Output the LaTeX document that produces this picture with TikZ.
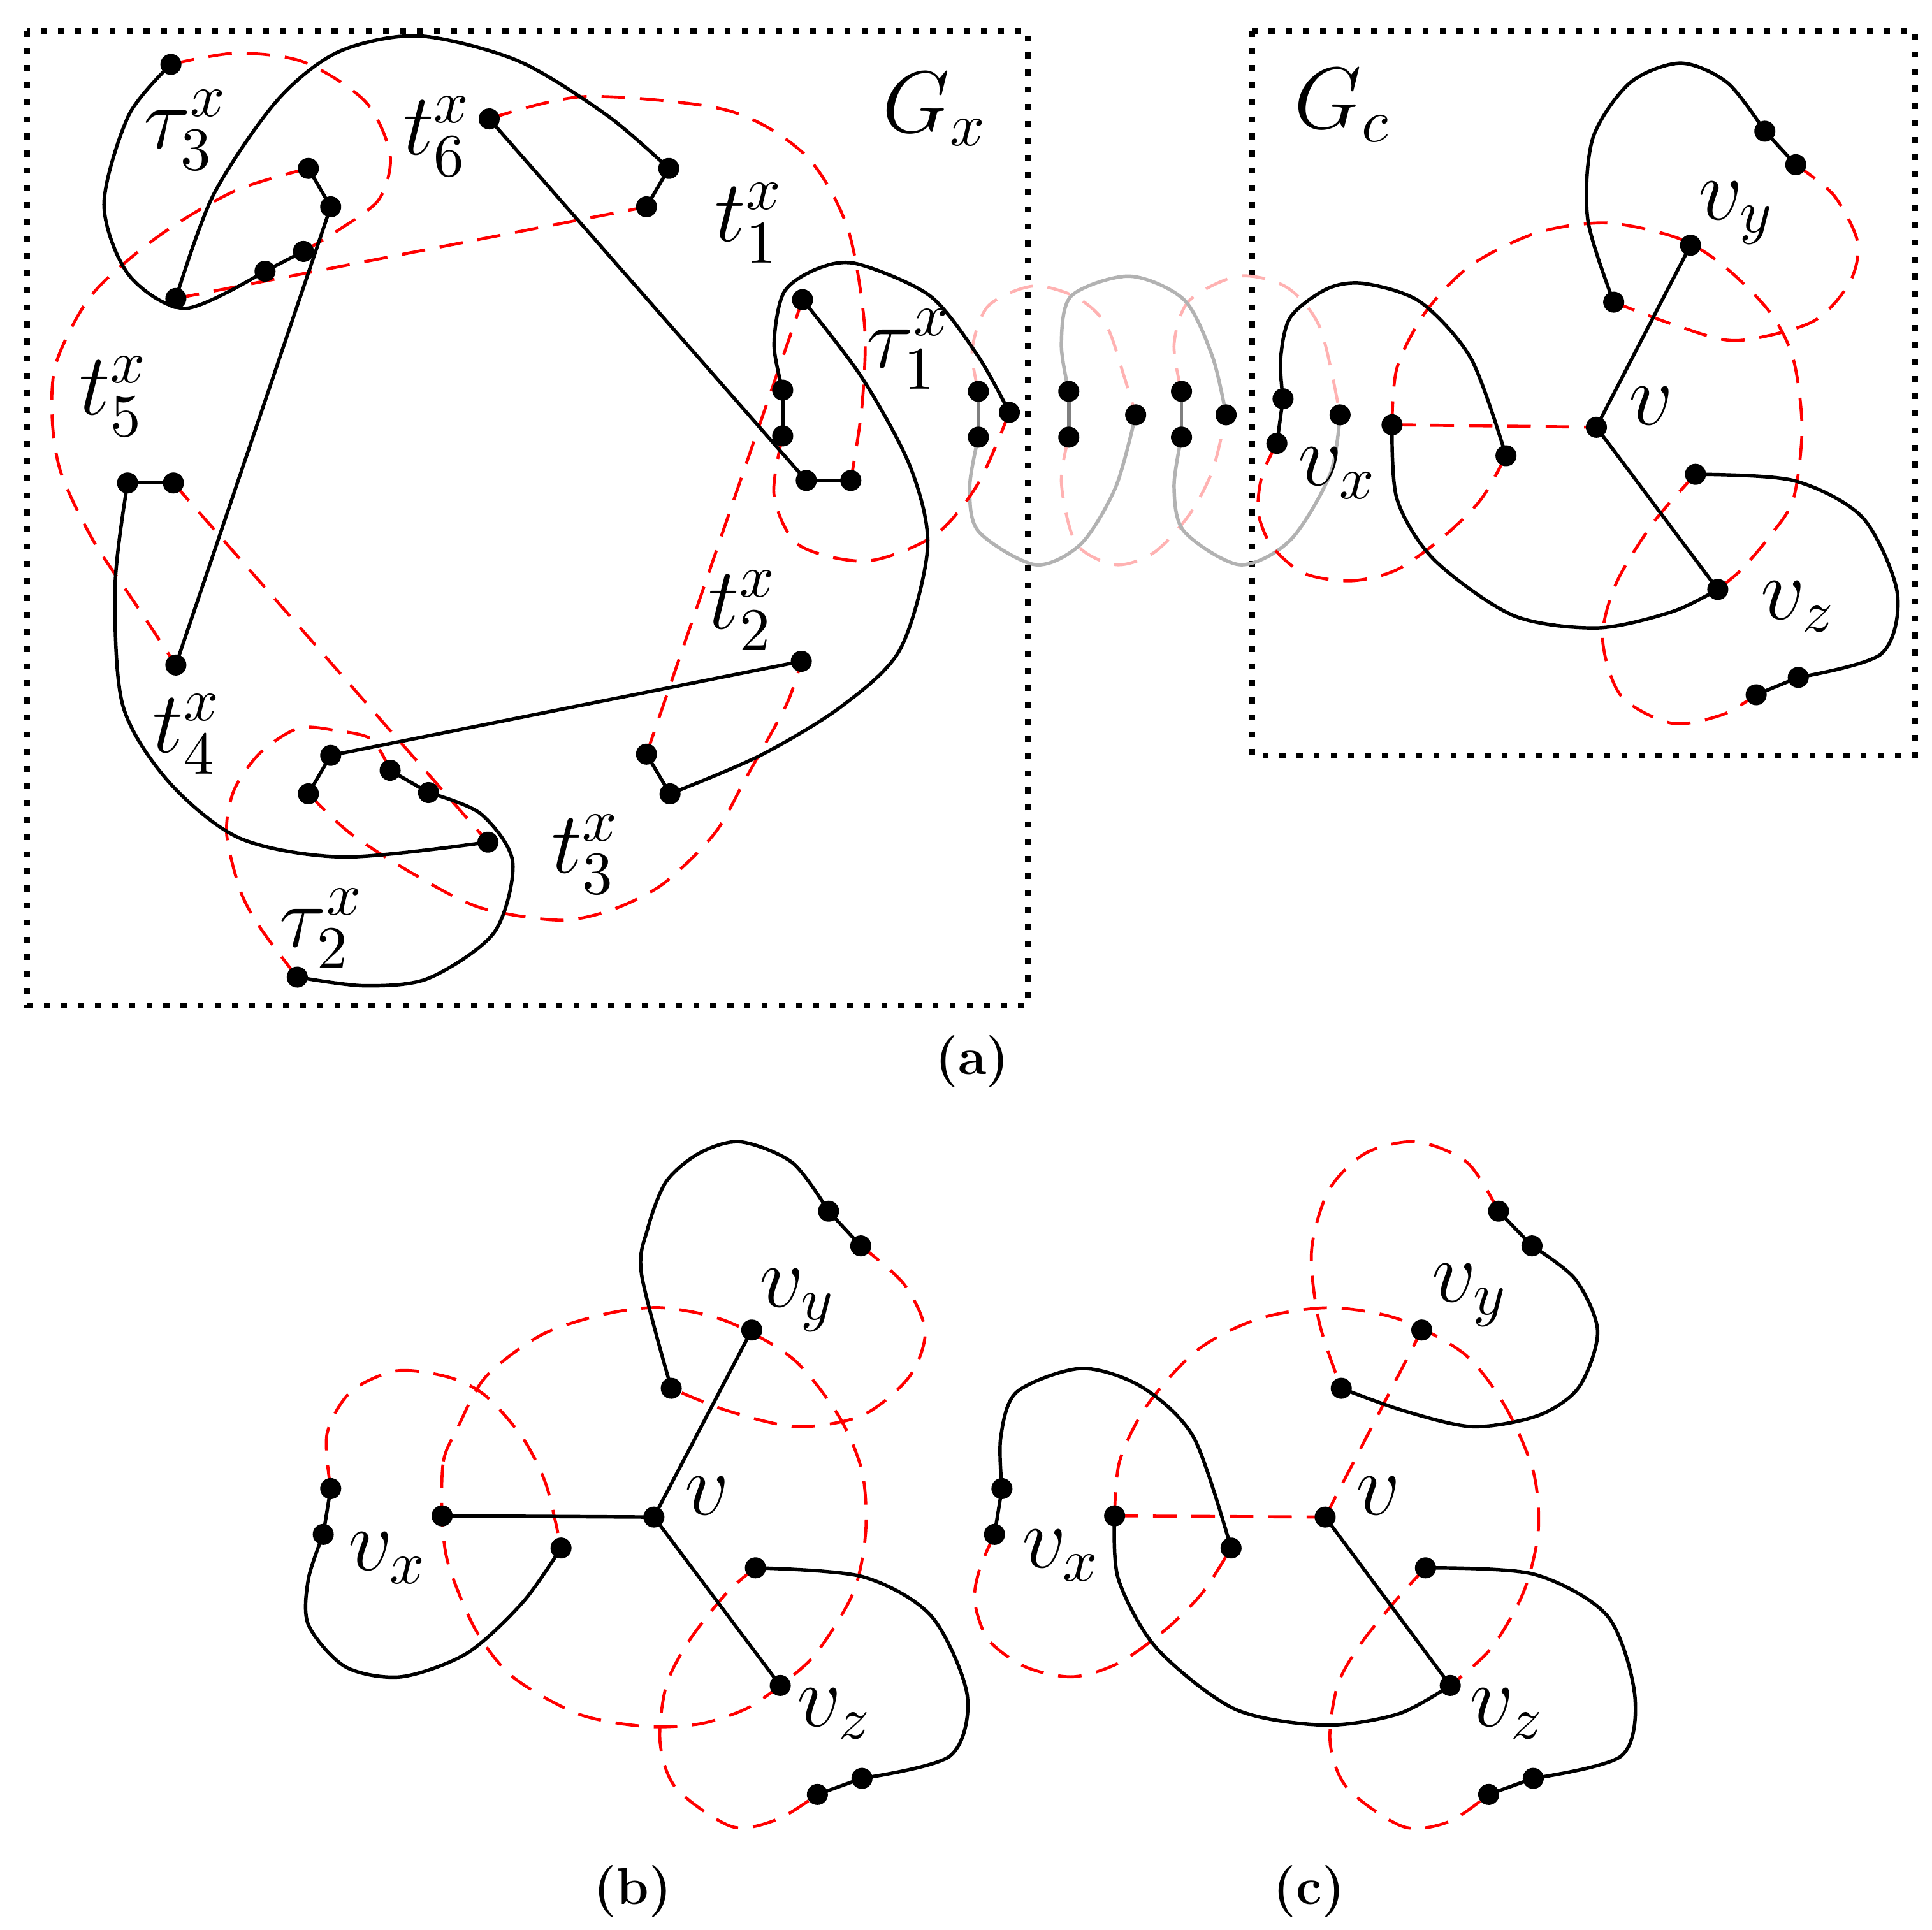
\documentclass[tikz,border=0pt]{standalone}
\begin{document}
\begin{tikzpicture}[x=1pt,y=-1pt,
  blk/.style={line width=2.8pt,black},
  rdd/.style={line width=2.4pt,red,dash pattern=on 19pt off 12pt},
  pnk/.style={line width=2.4pt,red!30,dash pattern=on 19pt off 12pt},
  gry/.style={line width=2.8pt,black!30},
  gryseg/.style={line width=2.8pt,black!50},
  boxd/.style={line width=4.8pt,dash pattern=on 4.8pt off 9pt},
  lbl/.style={font=\Large,scale=4.9,inner sep=0pt},
  captxt/.style={font=\Large\bfseries,scale=2.9,inner sep=0pt}]
\useasboundingbox (0,0) rectangle (1560,1558);
% boxes
\coordinate (gx1) at (22,25); \coordinate (gx2) at (830,812);
\coordinate (gc1) at (1011,25); \coordinate (gc2) at (1546,610);
\draw[boxd] (gx1) rectangle (gx2);
\draw[boxd] (gc1) rectangle (gc2);
% Gx coordinates
\coordinate (d1) at (138,52); \coordinate (d2) at (249,136); \coordinate (d3) at (267,167);
\coordinate (d4) at (245,203); \coordinate (d5) at (214,219); \coordinate (d6) at (142,241);
\coordinate (d7) at (395,96); \coordinate (d8) at (540,136); \coordinate (d9) at (522,167);
\coordinate (d10) at (103,390); \coordinate (d11) at (140,390); \coordinate (d12) at (142,537);
\coordinate (d13) at (648,242); \coordinate (d14) at (632,315); \coordinate (d15) at (632,352);
\coordinate (d16) at (651,388); \coordinate (d17) at (687,388); \coordinate (d18) at (647,534);
\coordinate (d19) at (267,610); \coordinate (d20) at (249,641); \coordinate (d21) at (315,622);
\coordinate (d22) at (346,640); \coordinate (d23) at (394,680); \coordinate (d24) at (522,609);
\coordinate (d25) at (541,641); \coordinate (d26) at (240,789); \coordinate (d27) at (815,333);
% middle
\coordinate (m1) at (790,316); \coordinate (m2) at (790,353); \coordinate (m3) at (863,316);
\coordinate (m4) at (863,353); \coordinate (m5) at (917,335); \coordinate (m6) at (954,316);
\coordinate (m7) at (954,353); \coordinate (m8) at (990,335);
% Gc
\coordinate (c1) at (1036,322); \coordinate (c2) at (1031,358); \coordinate (c3) at (1082,335);
\coordinate (c4) at (1124,343); \coordinate (c5) at (1216,368); \coordinate (v) at (1289,345);
\coordinate (vy) at (1365,198); \coordinate (vz) at (1387,476); \coordinate (y1) at (1303,244);
\coordinate (y2) at (1425,106); \coordinate (y3) at (1450,133); \coordinate (z1) at (1369,383);
\coordinate (z2) at (1452,547); \coordinate (z3) at (1418,561);
% b
\coordinate (by2) at (669,978); \coordinate (by3) at (695,1006); \coordinate (bvy) at (607,1074);
\coordinate (by1) at (542,1121); \coordinate (bv) at (528,1225); \coordinate (bc4) at (357,1224);
\coordinate (bc5) at (453,1250); \coordinate (bc1) at (267,1202); \coordinate (bc2) at (261,1239);
\coordinate (bz1) at (610,1266); \coordinate (bvz) at (630,1361); \coordinate (bz2) at (696,1436);
\coordinate (bz3) at (660,1449);
% c
\coordinate (cy2) at (1210,978); \coordinate (cy3) at (1237,1006); \coordinate (cvy) at (1148,1074);
\coordinate (cy1) at (1083,1121); \coordinate (cv) at (1070,1225); \coordinate (cc4) at (900,1224);
\coordinate (cc5) at (994,1250); \coordinate (cc1) at (809,1202); \coordinate (cc2) at (803,1239);
\coordinate (cz1) at (1151,1266); \coordinate (cvz) at (1171,1361); \coordinate (cz2) at (1238,1436);
\coordinate (cz3) at (1202,1449);

% ---------- pink / gray middle
\draw[pnk] plot[smooth] coordinates {(m1) (785,282) (798,247) (834,231) (869,240) (893,262) (908,305) (m5)};
\draw[pnk] plot[smooth] coordinates {(m4) (857,390) (869,439) (901,456) (932,446) (960,416) (979,380) (m8)};
\draw[pnk] plot[smooth] coordinates {(m6) (948,278) (960,243) (1000,223) (1039,232) (1066,265) (c3)};
\draw[gry] plot[smooth] coordinates {(m2) (783,393) (790,429) (836,456) (873,439) (901,393) (m5)};
\draw[gry] plot[smooth] coordinates {(m3) (857,278) (865,239) (912,223) (956,242) (979,288) (m8)};
\draw[gry] plot[smooth] coordinates {(m7) (948,393) (956,429) (1001,456) (1042,436) (1074,383) (c3)};
\draw[gryseg] (m1) -- (m2); \draw[gryseg] (m3) -- (m4); \draw[gryseg] (m6) -- (m7);

% ---------- Gx red
\draw[rdd] plot[smooth] coordinates {(d1) (190,43) (245,50) (295,82) (315,125) (306,161) (273,186) (d4)};
\draw[rdd] plot[smooth] coordinates {(d2) (190,154) (129,190) (75,237) (46,291) (42,335) (49,381) (75,436) (111,490) (d12)};
\draw[rdd] (d6) -- (d9);
\draw[rdd] (d11) -- (d23);
\draw[rdd] plot[smooth] coordinates {(d7) (472,78) (587,89) (650,125) (684,183) (698,262) (696,328) (d17)};
\draw[rdd] plot[smooth] coordinates {(d15) (625,400) (645,440) (700,453) (755,432) (790,390) (d27)};
\draw[rdd] (d24) -- (d13);
\draw[rdd] plot[smooth] coordinates {(d21) (300,597) (272,590) (241,588) (210,608) (189,638) (183,673) (194,719) (210,749) (d26)};
\draw[rdd] plot[smooth] coordinates {(d20) (283,673) (336,707) (388,733) (451,743) (493,735) (535,714) (577,673) (603,627) (635,569) (d18)};
% ---------- Gx black
\draw[blk] plot[smooth] coordinates {(d1) (104,93) (84,165) (104,222) (150,249) (d5)};
\draw[blk] (d2) -- (d3); \draw[blk] (d4) -- (d5); \draw[blk] (d8) -- (d9);
\draw[blk] (d10) -- (d11); \draw[blk] (d14) -- (d15); \draw[blk] (d16) -- (d17);
\draw[blk] (d19) -- (d20); \draw[blk] (d21) -- (d22); \draw[blk] (d24) -- (d25);
\draw[blk] (d3) -- (d12); \draw[blk] (d7) -- (d16); \draw[blk] (d19) -- (d18);
\draw[blk] plot[smooth] coordinates {(d6) (172,158) (223,82) (273,42) (338,29) (418,49) (490,93) (d8)};
\draw[blk] plot[smooth] coordinates {(d10) (93,472) (99,569) (136,631) (194,677) (278,692) (d23)};
\draw[blk] plot[smooth] coordinates {(d22) (388,657) (414,696) (399,753) (346,790) (294,796) (d26)};
\draw[blk] plot[smooth] coordinates {(d25) (614,610) (680,570) (727,524) (749,442) (735,377) (696,305) (d13)};
\draw[blk] plot[smooth] coordinates {(d14) (625,278) (633,236) (660,217) (692,213) (751,239) (790,288) (d27)};

% ---------- Gc
\draw[rdd] (c4) -- (v);
\draw[rdd] plot[smooth] coordinates {(y3) (1481,158) (1500,196) (1493,229) (1463,260) (1402,275) (1354,263) (y1)};
\draw[rdd] plot[smooth] coordinates {(c4) (1128,297) (1151,252) (1188,214) (1241,188) (1297,180) (1354,192) (1391,214) (1429,252) (1448,290) (1455,346) (1448,403) (1429,433) (1406,460) (vz)};
\draw[rdd] plot[smooth] coordinates {(z1) (1335,422) (1305,471) (1294,516) (1309,562) (1350,584) (1391,577) (z3)};
\draw[rdd] plot[smooth] coordinates {(c2) (1019,384) (1016,414) (1027,441) (1053,463) (1091,469) (1128,460) (1166,433) (1196,403) (c5)};
\draw[blk] (c1) -- (c2); \draw[blk] (y2) -- (y3); \draw[blk] (z2) -- (z3);
\draw[blk] (v) -- (vy); \draw[blk] (v) -- (vz);
\draw[blk] plot[smooth] coordinates {(c1) (1034,290) (1042,256) (1072,233) (1102,229) (1147,244) (1188,290) (c5)};
\draw[blk] plot[smooth] coordinates {(c4) (1128,403) (1158,452) (1222,497) (1290,507) (1350,494) (vz)};
\draw[blk] plot[smooth] coordinates {(y1) (1282,177) (1286,112) (1316,67) (1357,51) (1395,67) (y2)};
\draw[blk] plot[smooth] coordinates {(z1) (1448,388) (1504,418) (1532,479) (1519,528) (z2)};

% ---------- panel b
\draw[rdd] plot[smooth] coordinates {(by3) (730,1037) (747,1075) (734,1112) (696,1143) (643,1152) (587,1139) (by1)};
\draw[rdd] plot[smooth] coordinates {(bc1) (264,1158) (283,1124) (320,1107) (362,1112) (392,1127) (422,1161) (441,1199) (bc5)};
\draw[rdd] plot[smooth cycle] coordinates {(bc4) (358,1180) (369,1154) (392,1112) (437,1078) (489,1061) (535,1056) (587,1067) (640,1097) (677,1143) (696,1188) (699,1237) (689,1286) (659,1335) (bvz) (602,1380) (565,1392) (520,1394) (467,1384) (414,1354) (384,1316) (362,1263)};
\draw[rdd] plot[smooth] coordinates {(bz1) (587,1286) (557,1324) (538,1361) (533,1407) (546,1444) (591,1475) (628,1469) (bz3)};
\draw[blk] (bc1) -- (bc2); \draw[blk] (by2) -- (by3); \draw[blk] (bz2) -- (bz3);
\draw[blk] (bv) -- (bvy); \draw[blk] (bv) -- (bvz); \draw[blk] (bv) -- (bc4);
\draw[blk] plot[smooth] coordinates {(by1) (518,1029) (523,992) (538,954) (565,931) (598,922) (640,939) (by2)};
\draw[blk] plot[smooth] coordinates {(bc2) (249,1275) (249,1312) (279,1346) (324,1354) (377,1335) (422,1294) (bc5)};
\draw[blk] plot[smooth] coordinates {(bz1) (696,1273) (752,1305) (781,1369) (767,1418) (bz2)};

% ---------- panel c
\draw[rdd] (cc4) -- (cv); \draw[rdd] (cv) -- (cvy);
\draw[rdd] plot[smooth] coordinates {(cy2) (1185,939) (1144,922) (1103,931) (1073,961) (1059,1010) (1065,1067) (cy1)};
\draw[rdd] plot[smooth] coordinates {(cc2) (791,1267) (787,1293) (798,1324) (828,1346) (866,1354) (903,1343) (941,1316) (971,1286) (cc5)};
\draw[rdd] plot[smooth] coordinates {(cc4) (904,1180) (926,1135) (967,1090) (1016,1065) (1073,1056) (1129,1065) (1182,1093) (1215,1135) (1238,1188) (1242,1237) (1230,1286) (1204,1331) (cvz)};
\draw[rdd] plot[smooth] coordinates {(cz1) (1129,1290) (1099,1327) (1080,1361) (1074,1407) (1088,1444) (1133,1475) (1170,1471) (cz3)};
\draw[blk] (cc1) -- (cc2); \draw[blk] (cy2) -- (cy3); \draw[blk] (cz2) -- (cz3); \draw[blk] (cv) -- (cvz);
\draw[blk] plot[smooth] coordinates {(cy3) (1272,1033) (1290,1075) (1275,1120) (1242,1143) (1189,1152) (1133,1139) (cy1)};
\draw[blk] plot[smooth] coordinates {(cc1) (808,1161) (821,1124) (873,1105) (922,1120) (964,1161) (cc5)};
\draw[blk] plot[smooth] coordinates {(cc4) (903,1275) (934,1331) (997,1380) (1069,1393) (1129,1384) (cvz)};
\draw[blk] plot[smooth] coordinates {(cz1) (1238,1271) (1298,1305) (1320,1369) (1309,1418) (cz2)};

% ---------- dots
\foreach \n in {d1,d2,d3,d4,d5,d6,d7,d8,d9,d10,d11,d12,d13,d14,d15,d16,d17,d18,d19,d20,d21,d22,d23,d24,d25,d26,d27,
  m1,m2,m3,m4,m5,m6,m7,m8,c1,c2,c3,c4,c5,v,vy,vz,y1,y2,y3,z1,z2,z3,
  by1,by2,by3,bvy,bv,bc1,bc2,bc4,bc5,bz1,bz2,bz3,bvz,
  cy1,cy2,cy3,cvy,cv,cc1,cc2,cc4,cc5,cz1,cz2,cz3,cvz}
  \fill (\n) circle (8.5);

% ---------- labels
\node[lbl] (lgx) at (755,88) {$G_x$};
\node[lbl] (lgc) at (1084,85) {$G_c$};
\node[lbl] (lta3) at (150,105) {$\tau^x_3$};
\node[lbl] (lt6) at (353,110) {$t^x_6$};
\node[lbl] (lt1) at (605,180) {$t^x_1$};
\node[lbl] (lta1) at (734,282) {$\tau^x_1$};
\node[lbl] (lt5) at (92,320) {$t^x_5$};
\node[lbl] (lt4) at (151,593) {$t^x_4$};
\node[lbl] (lt2) at (600,493) {$t^x_2$};
\node[lbl] (lt3) at (473,690) {$t^x_3$};
\node[lbl] (lta2) at (260,750) {$\tau^x_2$};
\node[lbl] (lvx) at (1080,382) {$v_x$};
\node[lbl] (lvy) at (1402,172) {$v_y$};
\node[lbl] (lv) at (1333,328) {$v$};
\node[lbl] (lvz) at (1452,490) {$v_z$};
\node[lbl] (blvx) at (313,1258) {$v_x$};
\node[lbl] (blvy) at (644,1050) {$v_y$};
\node[lbl] (blv) at (571,1208) {$v$};
\node[lbl] (blvz) at (674,1384) {$v_z$};
\node[lbl] (clvx) at (857,1256) {$v_x$};
\node[lbl] (clvy) at (1187,1046) {$v_y$};
\node[lbl] (clv) at (1113,1208) {$v$};
\node[lbl] (clvz) at (1217,1384) {$v_z$};
\node[captxt] (capa) at (785,857) {(a)};
\node[captxt] (capb) at (511,1527) {(b)};
\node[captxt] (capc) at (1057,1527) {(c)};
\end{tikzpicture}
\end{document}
